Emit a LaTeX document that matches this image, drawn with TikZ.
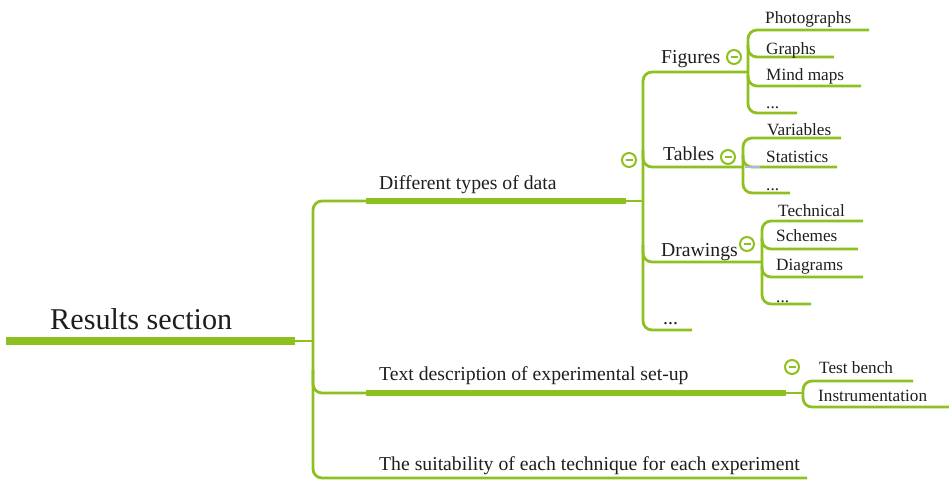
\documentclass[tikz,border=0pt]{standalone}
\usepackage{fontspec}
\setmainfont{Liberation Serif}
\definecolor{mmgreen}{RGB}{142,193,31}
\definecolor{mmblue}{RGB}{165,185,220}
\definecolor{mmtext}{RGB}{30,30,30}
\begin{document}
\begin{tikzpicture}[x=1pt,y=-1pt,
 rootline/.style={mmgreen,line width=8pt},
 midline/.style={mmgreen,line width=6pt},
 thinline/.style={mmgreen,line width=2.8pt,rounded corners=9pt},
 lbl/.style={anchor=base west,inner sep=0pt,text=mmtext},
 big/.style={lbl,font=\fontsize{30.2}{34}\selectfont},
 med/.style={lbl,font=\fontsize{19.7}{23}\selectfont},
 sml/.style={lbl,font=\fontsize{17.2}{20}\selectfont},
 tog/.style={circle,draw=mmgreen,line width=2pt,minimum size=14pt,inner sep=0pt,fill=white,
   path picture={\draw[mmgreen,line width=2pt] ([xshift=-3.5pt]path picture bounding box.center) -- ([xshift=3.5pt]path picture bounding box.center);}}
]
\useasboundingbox (0,0) rectangle (949,480);

% ---- root
\draw[rootline] (6,341) -- (295,341);
\draw[thinline] (295,341) -- (313,341);
\draw[thinline] (366,201) -- (313,201) -- (313,478) -- (807,478);
\draw[thinline] (313,370) -- (313,393) -- (366,393);
\node[big] (root) at (50,329) {Results section};

% ---- branch 1
\draw[midline] (366,201) -- (626,201);
\draw[thinline] (626,201) -- (643,201);
\node[med] (data) at (379,189) {Different types of data};
\draw[thinline] (748,72) -- (643,72) -- (643,330) -- (692,330);
\draw[thinline] (643,150) -- (643,167) -- (743,167);
\draw[thinline] (643,245) -- (643,262) -- (762,262);
\node[tog] (t1) at (629,160) {};

\node[med] (fig) at (661,63) {Figures};
\node[med] (tab) at (663,160) {Tables};
\node[med] (drw) at (661,256) {Drawings};
\node[med] (dots2) at (663,324) {...};

% figures
\draw[thinline] (869,30) -- (748,30) -- (748,113) -- (797,113);
\draw[thinline] (748,45) -- (748,57) -- (834,57);
\draw[thinline] (748,75) -- (748,86) -- (861,86);
\node[tog] (t2) at (734,57) {};
\node[sml] (ph) at (765,23) {Photographs};
\node[sml] (gr) at (766,54) {Graphs};
\node[sml] (mm) at (766,80) {Mind maps};
\node[sml] (d3a) at (766,108) {...};

% tables
\draw[thinline] (841,138) -- (743,138) -- (743,193) -- (790,193);
\draw[thinline] (743,155) -- (743,167) -- (837,167);
\draw[mmblue,line width=2.8pt] (745,167) -- (760,167);
\node[tog] (t3) at (728,157) {};
\node[sml] (var) at (767,135) {Variables};
\node[sml] (sta) at (766,162) {Statistics};
\node[sml] (d3b) at (766,190) {...};

% drawings
\draw[thinline] (863,221) -- (762,221) -- (762,304) -- (811,304);
\draw[thinline] (762,238) -- (762,249) -- (858,249);
\draw[thinline] (762,266) -- (762,277) -- (863,277);
\node[tog] (t4) at (747,244) {};
\node[sml] (tec) at (778,216) {Technical};
\node[sml] (sch) at (776,241) {Schemes};
\node[sml] (dia) at (776,270) {Diagrams};
\node[sml] (d3c) at (776,302) {...};

% ---- branch 2
\draw[midline] (366,393) -- (786,393);
\draw[thinline] (786,393) -- (803,393);
\node[med] (txt) at (379,380) {Text description of experimental set-up};
\draw[thinline] (913,381) -- (803,381) -- (803,407) -- (955,407);
\node[tog] (t5) at (792,367) {};
\node[sml] (tb) at (819,373) {Test bench};
\node[sml] (ins) at (818,401) {Instrumentation};

% ---- branch 3
\node[med] (suit) at (379,470) {The suitability of each technique for each experiment};
\end{tikzpicture}
\end{document}
